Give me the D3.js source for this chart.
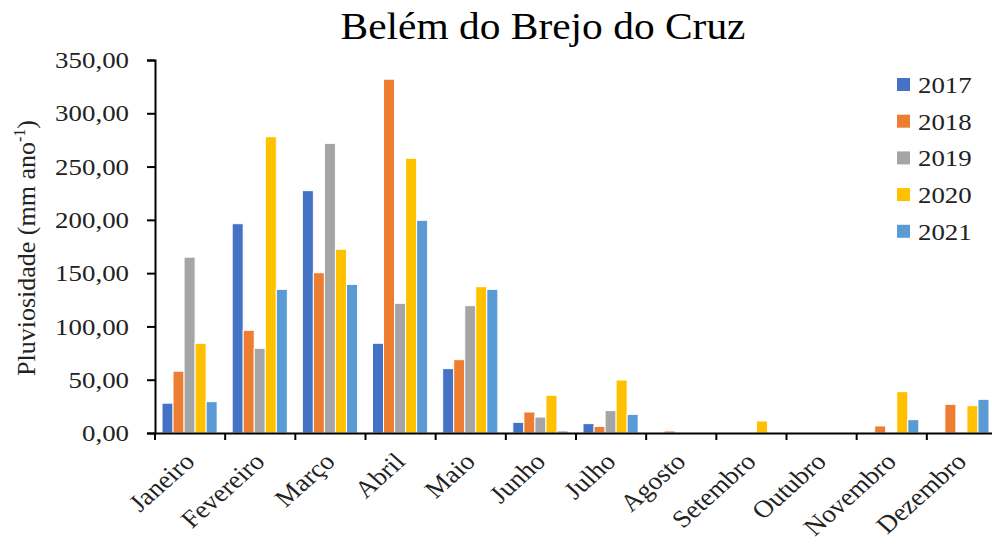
<!DOCTYPE html>
<html>
<head>
<meta charset="utf-8">
<script src="https://cdn.jsdelivr.net/npm/d3@7"></script>
<style>
  body { margin: 0; background: #fff; }
  svg { display: block; }
</style>
</head>
<body>
<svg id="chart" width="992" height="547"></svg>
<script>
const months = ['Janeiro', 'Fevereiro', 'Março', 'Abril', 'Maio', 'Junho', 'Julho',
  'Agosto', 'Setembro', 'Outubro', 'Novembro', 'Dezembro'];
const years = ['2017', '2018', '2019', '2020', '2021'];
const colors = ['#4472C4', '#ED7D31', '#A5A5A5', '#FFC000', '#5B9BD5'];

const v2017 = [28, 196.4, 227.4, 84.2, 60.4, 10, 8.8, 0, 0, 0, 0, 0];
const v2018 = [58, 96.4, 150.4, 332, 68.8, 19.7, 6.2, 1.9, 0, 0, 6.6, 26.9];
const v2019 = [165, 79.5, 271.8, 121.7, 119.5, 15, 21, 0, 0, 0, 0, 0];
const v2020 = [84.2, 278, 172.4, 257.8, 137.3, 35.4, 49.7, 0, 11.3, 0, 38.8, 25.6];
const v2021 = [29.4, 134.8, 139.5, 199.6, 134.8, 1.9, 17.5, 0, 0, 0, 12.5, 31.6];
const series = [v2017, v2018, v2019, v2020, v2021];

const yTicks = [0, 50, 100, 150, 200, 250, 300, 350];

const FONT = '"Liberation Serif", "DejaVu Serif", serif';
const SX = 1.12; // the original picture is a bit stretched sideways

const svg = d3.select('#chart');
const plotL = 155, plotR = 997, plotT = 60, plotB = 433;

const x = d3.scaleBand().domain(months).range([plotL, plotR]).paddingInner(0).paddingOuter(0);
const x1 = d3.scaleBand().domain(years).range([7, x.bandwidth() - 8]).padding(0);
const y = d3.scaleLinear().domain([0, 350]).range([plotB, plotT]);

// bars
const groups = svg.append('g').selectAll('g')
  .data(months)
  .join('g')
  .attr('transform', d => `translate(${x(d)},0)`);

groups.selectAll('rect')
  .data((m, i) => years.map((yr, k) => ({ yr, k, v: series[k][i] })).filter(d => d.v > 0))
  .join('rect')
  .attr('x', d => x1(d.yr))
  .attr('y', d => y(d.v))
  .attr('width', x1.bandwidth())
  .attr('height', d => plotB - y(d.v))
  .attr('fill', d => colors[d.k])
  .attr('stroke', '#fff')
  .attr('stroke-width', 1);

// y axis
const yAxis = svg.append('g')
  .attr('transform', `translate(${plotL},0)`)
  .call(d3.axisLeft(y).tickValues(yTicks).tickSize(8).tickPadding(18)
    .tickFormat(d => d3.format('.2f')(d).replace('.', ',')));
yAxis.attr('font-family', FONT).attr('font-size', 24);
yAxis.select('.domain').attr('stroke', '#000').attr('stroke-width', 2);
yAxis.selectAll('.tick line').attr('stroke', '#000').attr('stroke-width', 2);
yAxis.selectAll('.tick text')
  .attr('fill', '#222')
  .attr('x', -26 / SX)
  .attr('transform', `scale(${SX},1)`);

// x axis
const xAxis = svg.append('g')
  .attr('transform', `translate(0,${plotB})`)
  .call(d3.axisBottom(x).tickSize(0).tickFormat(''));
xAxis.select('.domain').attr('stroke', '#000').attr('stroke-width', 2);

svg.append('g').selectAll('line')
  .data(months)
  .join('line')
  .attr('x1', d => x(d)).attr('x2', d => x(d))
  .attr('y1', plotB).attr('y2', plotB + 7)
  .attr('stroke', '#000').attr('stroke-width', 2);

svg.append('g').selectAll('text')
  .data(months)
  .join('text')
  .attr('transform', d => `translate(${x(d) + x.bandwidth() / 2 + 6},${plotB + 30}) scale(${SX},1) rotate(-45)`)
  .attr('text-anchor', 'end')
  .attr('fill', '#222')
  .attr('font-family', FONT)
  .attr('font-size', 24.5)
  .text(d => d);

// y label
const yl = svg.append('text')
  .attr('transform', `translate(35,248) rotate(-90)`)
  .attr('text-anchor', 'middle')
  .attr('fill', '#222')
  .attr('font-family', FONT)
  .attr('font-size', 26);
yl.append('tspan').text('Pluviosidade (mm ano');
yl.append('tspan').attr('dy', -10).attr('font-size', 16).text('-1');
yl.append('tspan').attr('dy', 10).text(')');

// title
svg.append('text')
  .attr('transform', `translate(543,39) scale(${SX},1)`)
  .attr('text-anchor', 'middle')
  .attr('fill', '#000')
  .attr('font-family', FONT)
  .attr('font-size', 37)
  .text('Belém do Brejo do Cruz');

// legend
const legend = svg.append('g').selectAll('g')
  .data(years)
  .join('g')
  .attr('transform', (d, i) => `translate(897,${85 + i * 36.7})`);
legend.append('rect')
  .attr('x', 0).attr('y', -7).attr('width', 13).attr('height', 13)
  .attr('fill', (d, i) => colors[i]);
legend.append('text')
  .attr('transform', `translate(21,8) scale(${SX},1)`)
  .attr('fill', '#222')
  .attr('font-family', FONT)
  .attr('font-size', 24)
  .text(d => d);
</script>
</body>
</html>
